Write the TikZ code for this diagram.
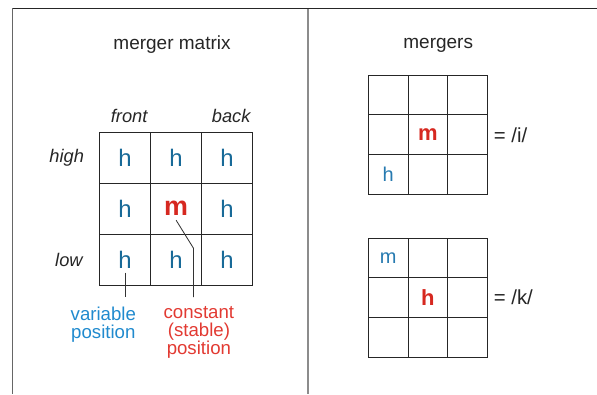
\documentclass[tikz,border=0pt]{standalone}
\usepackage{fontspec}
\setmainfont{Liberation Sans}
\usetikzlibrary{positioning}
\definecolor{hblue}{RGB}{24,106,152}
\definecolor{hblue2}{RGB}{38,122,176}
\definecolor{lblue}{RGB}{32,138,206}
\definecolor{mred}{RGB}{214,40,32}
\definecolor{lred}{RGB}{226,58,50}

\begin{document}
\begin{tikzpicture}[
    bigcell/.style={draw=black!85, line width=0.8pt, minimum size=1.5cm, inner sep=0pt},
    smallcell/.style={draw=black!85, line width=0.8pt, minimum size=1.17cm, inner sep=0pt},
    ttl/.style={font=\fontsize{15.9}{19}\selectfont, text=black!85},
    side/.style={font=\fontsize{15.3}{18}\selectfont\itshape, text=black!85},
    hbig/.style={font=\fontsize{20}{24}\selectfont, text=hblue},
    mbig/.style={font=\fontsize{22.5}{26}\selectfont\bfseries, text=mred},
    hsmall/.style={font=\fontsize{16.7}{20}\selectfont, text=hblue2},
    msmall/.style={font=\fontsize{18.4}{22}\selectfont\bfseries, text=mred},
    note/.style={font=\fontsize{15.6}{14.8}\selectfont, align=center, anchor=north, inner xsep=1pt, inner ysep=8pt},
    eq/.style={font=\fontsize{17}{20}\selectfont, text=black!85},
    lead/.style={draw=black!80, line width=0.7pt}]

    \useasboundingbox (0,0) rectangle (17.56,11.59);

    % frame and divider
    \draw[black!60, line width=1.1pt] (0.37,11.35) -- (0.37,0);
    \draw[black!45, line width=1.6pt] (9.05,11.35) -- (9.05,0);
    \draw[black!85, line width=1.1pt] (0.37,11.35) -- (17.56,11.35);

    % the three grids
    \foreach \r in {1,2,3}
      \foreach \c in {1,2,3} {
        \node[bigcell] (L-\r-\c) at ({2.93+1.5*\c-0.75}, {7.7-1.5*\r+0.75}) {};
        \node[smallcell] (A-\r-\c) at ({10.83+1.17*\c-0.585}, {9.38-1.17*\r+0.585}) {};
        \node[smallcell] (B-\r-\c) at ({10.83+1.17*\c-0.585}, {4.59-1.17*\r+0.585}) {};
      }

    \node[ttl] (ttlL) at (5.06,10.29) {merger matrix};
    \node[ttl] (ttlR) at (12.89,10.26) {mergers};

    \node[side] (front) at (3.80,8.17) {front};
    \node[side] (back) at (6.80,8.17) {back};
    \node[side, left=0.32cm of L-1-1] (high) {high};
    \node[side, left=0.36cm of L-3-1] (low) {low};

    % left matrix
    \foreach \p in {1-1,1-2,1-3,2-1,2-3,3-1,3-2,3-3}
      \node[hbig] (v-\p) at (L-\p) {h};
    \node[mbig] (fix) at (L-2-2) {m};

    % right matrices
    \node[msmall] (am) at (A-2-2) {m};
    \node[hsmall] (ah) at (A-3-1) {h};
    \node[hsmall] (bm) at (B-1-1) {m};
    \node[msmall] (bh) at (B-2-2) {h};
    \node[eq, right=0.05cm of A-2-3] (eqi) {= /i/};
    \node[eq, right=0.05cm of B-2-3] (eqk) {= /k/};

    % notes
    \node[note, text=lblue] (varpos) at (3.04,2.85) {variable\\position};
    \node[note, text=lred] (constpos) at (5.85,2.85) {constant\\(stable)\\position};
    \coordinate (kink) at (5.69,4.29);
    \draw[lead] (v-3-1.south) -- (v-3-1.south |- varpos.north);
    \draw[lead] (fix.south) -- (kink) -- (kink |- constpos.north);

\end{tikzpicture}
\end{document}
